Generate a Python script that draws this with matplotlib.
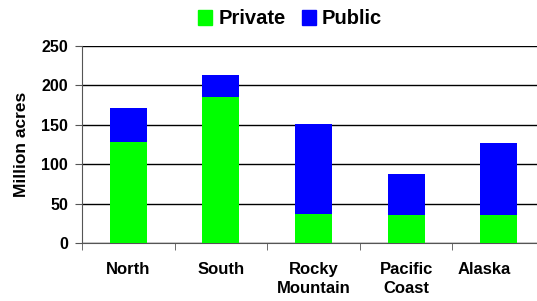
import numpy as np
import matplotlib.pyplot as plt
import matplotlib.transforms as mtransforms
from matplotlib.patches import Patch

plt.rcParams['font.family'] = ['Liberation Sans', 'DejaVu Sans']
plt.rcParams['font.weight'] = 'bold'

regions = ["North", "South", "Rocky\nMountain", "Pacific\nCoast", "Alaska"]
private = [128, 185, 37, 36, 36]
public = [43, 28, 114, 52, 91]
yticks = [0, 50, 100, 150, 200, 250]

fig = plt.figure(figsize=(5.37, 3.01), dpi=100)
ax = fig.add_axes([82/537, 1 - 243/301, 463/537, 197/301])

x = np.arange(len(regions))
ax.bar(x, private, width=0.4, color="#00ff00", zorder=3, label="Private")
ax.bar(x, public, width=0.4, bottom=private, color="#0000ff", zorder=3, label="Public")

ax.set_xlim(-0.5, len(regions) - 0.5)
ax.set_ylim(0, 250)
ax.set_yticks(yticks)
ax.yaxis.grid(True, color="black", linewidth=1, zorder=0)
ax.set_axisbelow(True)

ax.set_xticks(x)
ax.set_xticklabels(regions, fontsize=12, fontweight="bold", linespacing=1.3)
ax.set_xticks(np.arange(len(regions) + 1) - 0.5, minor=True)
ax.tick_params(axis="x", which="major", length=0, pad=14)
ax.tick_params(axis="x", which="minor", length=5, color="#555555", direction="out")
ax.tick_params(axis="y", length=5, color="#555555", labelsize=11.5, pad=5)
for lab in ax.get_yticklabels():
    lab.set_fontweight("bold")

# last label sits a bit left, as the plot runs past the figure edge
last = ax.get_xticklabels()[-1]
last.set_transform(last.get_transform() +
                   mtransforms.ScaledTranslation(-0.14, 0, fig.dpi_scale_trans))

for s in ["top", "right"]:
    ax.spines[s].set_visible(False)
ax.spines["left"].set_color("#555555")
ax.spines["bottom"].set_color("#555555")

ax.set_ylabel("Million acres", fontsize=12.5, fontweight="bold", labelpad=9)

handles = [Patch(color="#00ff00", label="Private"), Patch(color="#0000ff", label="Public")]
fig.legend(handles=handles, loc="center", bbox_to_anchor=(290/537, 1 - 19/301),
           ncol=2, frameon=False, prop={"size": 14.5, "weight": "bold"},
           handlelength=0.7, handleheight=0.7, handletextpad=0.3, columnspacing=0.8)

fig.savefig("out.png", dpi=100)
